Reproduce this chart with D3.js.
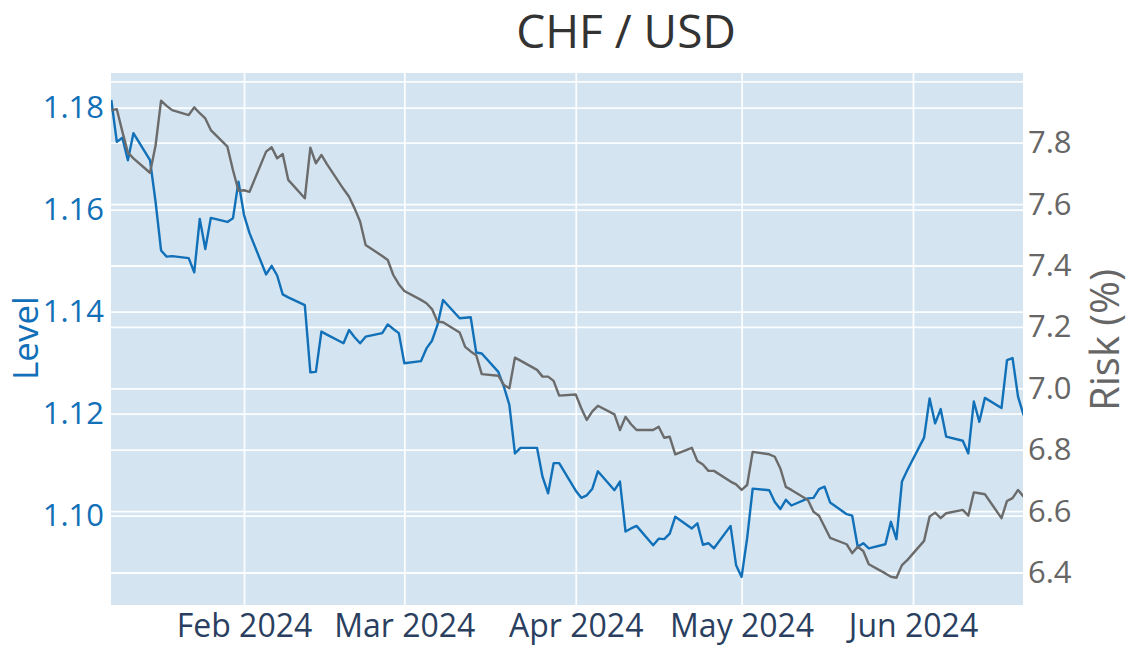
<!DOCTYPE html>
<html><head><meta charset="utf-8">
<script src="https://cdn.jsdelivr.net/npm/d3@7"></script>
<style>body{margin:0;background:#fff}</style>
</head><body><svg id="c" width="1131" height="651"></svg>
<script>
const dates = [
"2024-01-08","2024-01-09","2024-01-10","2024-01-11","2024-01-12",
"2024-01-15","2024-01-16","2024-01-17","2024-01-18","2024-01-19",
"2024-01-22","2024-01-23","2024-01-24","2024-01-25","2024-01-26",
"2024-01-29","2024-01-30","2024-01-31","2024-02-01","2024-02-02",
"2024-02-05","2024-02-06","2024-02-07","2024-02-08","2024-02-09",
"2024-02-12","2024-02-13","2024-02-14","2024-02-15","2024-02-16",
"2024-02-19","2024-02-20","2024-02-21","2024-02-22","2024-02-23",
"2024-02-26","2024-02-27","2024-02-28","2024-02-29","2024-03-01",
"2024-03-04","2024-03-05","2024-03-06","2024-03-07","2024-03-08",
"2024-03-11","2024-03-12","2024-03-13","2024-03-14","2024-03-15",
"2024-03-18","2024-03-19","2024-03-20","2024-03-21","2024-03-22",
"2024-03-25","2024-03-26","2024-03-27","2024-03-28","2024-03-29",
"2024-04-01","2024-04-02","2024-04-03","2024-04-04","2024-04-05",
"2024-04-08","2024-04-09","2024-04-10","2024-04-11","2024-04-12",
"2024-04-15","2024-04-16","2024-04-17","2024-04-18","2024-04-19",
"2024-04-22","2024-04-23","2024-04-24","2024-04-25","2024-04-26",
"2024-04-29","2024-04-30","2024-05-01","2024-05-02","2024-05-03",
"2024-05-06","2024-05-07","2024-05-08","2024-05-09","2024-05-10",
"2024-05-13","2024-05-14","2024-05-15","2024-05-16","2024-05-17",
"2024-05-20","2024-05-21","2024-05-22","2024-05-23","2024-05-24",
"2024-05-27","2024-05-28","2024-05-29","2024-05-30","2024-05-31",
"2024-06-03","2024-06-04","2024-06-05","2024-06-06","2024-06-07",
"2024-06-10","2024-06-11","2024-06-12","2024-06-13","2024-06-14",
"2024-06-17","2024-06-18","2024-06-19","2024-06-20","2024-06-21"];

const level = [
1.1815,1.1733,1.1741,1.1697,1.1750,
1.1697,1.1616,1.1520,1.1508,1.1509,
1.1505,1.1477,1.1582,1.1523,1.1584,
1.1576,1.1583,1.1655,1.1590,1.1554,
1.1473,1.1490,1.1471,1.1434,1.1428,
1.1413,1.1281,1.1282,1.1361,1.1355,
1.1338,1.1364,1.1350,1.1338,1.1351,
1.1358,1.1375,1.1366,1.1358,1.1299,
1.1303,1.1328,1.1343,1.1374,1.1423,
1.1387,1.1388,1.1389,1.1320,1.1318,
1.1282,1.1253,1.1217,1.1122,1.1133,
1.1133,1.1076,1.1044,1.1103,1.1103,
1.1049,1.1035,1.1040,1.1053,1.1087,
1.1050,1.1067,1.0969,1.0975,1.0980,
1.0942,1.0955,1.0954,1.0965,1.0998,
1.0975,1.0985,1.0943,1.0946,1.0936,
1.0980,1.0903,1.0880,1.0956,1.1053,
1.1050,1.1027,1.1013,1.1031,1.1020,
1.1034,1.1035,1.1052,1.1057,1.1026,
1.1003,1.1000,1.0939,1.0946,1.0936,
1.0944,1.0988,1.0954,1.1067,1.1090,
1.1153,1.1230,1.1181,1.1209,1.1155,
1.1147,1.1122,1.1224,1.1184,1.1231,
1.1211,1.1305,1.1309,1.1233,1.1197];

const risk = [
7.906,7.909,7.836,7.768,7.749,
7.702,7.790,7.937,7.920,7.906,
7.890,7.915,7.896,7.879,7.841,
7.787,7.711,7.644,7.645,7.640,
7.771,7.785,7.749,7.763,7.679,
7.619,7.784,7.733,7.760,7.730,
7.649,7.624,7.586,7.543,7.467,
7.431,7.418,7.369,7.339,7.317,
7.288,7.277,7.258,7.217,7.215,
7.182,7.135,7.120,7.108,7.046,
7.041,7.011,7.000,7.100,7.090,
7.060,7.038,7.038,7.024,6.976,
6.980,6.935,6.897,6.925,6.943,
6.915,6.864,6.907,6.883,6.864,
6.864,6.875,6.839,6.842,6.785,
6.806,6.763,6.752,6.731,6.731,
6.696,6.687,6.669,6.685,6.793,
6.785,6.777,6.739,6.679,6.669,
6.636,6.598,6.585,6.549,6.513,
6.492,6.463,6.484,6.470,6.427,
6.397,6.386,6.383,6.424,6.441,
6.503,6.582,6.595,6.577,6.593,
6.604,6.585,6.661,6.658,6.655,
6.577,6.633,6.642,6.669,6.647];

const levelTicks = [1.10, 1.12, 1.14, 1.16, 1.18];
const riskGrid = [6.4, 6.6, 6.8, 7.0, 7.2, 7.4, 7.6, 7.8, 8.0];
const riskLabels = [6.4, 6.6, 6.8, 7.0, 7.2, 7.4, 7.6, 7.8];
const monthTicks = ["2024-02-01","2024-03-01","2024-04-01","2024-05-01","2024-06-01"];

const titleText = "CHF / USD";
const levelTitle = "Level";
const riskTitle = "Risk (%)";

const L = 111, R = 1023, T = 73, B = 605;
const FONT = "'Open Sans', sans-serif";
const BLUE = "#1170b8", GRAY = "#6b6b6b";

const parse = d3.utcParse("%Y-%m-%d");
const pd = dates.map(parse);
const x = d3.scaleUtc().domain(d3.extent(pd)).range([111.3, 1023.6]);
const yL = d3.scaleLinear().domain([1.08249, 1.18680]).range([B, T]);
const yR = d3.scaleLinear().domain([6.2941, 8.0270]).range([B, T]);

const svg = d3.select("#c");
svg.append("rect").attr("width",1131).attr("height",651).attr("fill","#fff");
svg.append("rect").attr("x",L).attr("y",T).attr("width",R-L).attr("height",B-T).attr("fill","#d4e5f1");

// gridlines
const gridStyle = g => { g.select(".domain").remove(); g.selectAll("line").attr("stroke","#ffffff").attr("stroke-width",1.8).attr("stroke-opacity",0.9); g.selectAll("text").remove(); };
svg.append("g").attr("transform",`translate(0,${B})`)
  .call(d3.axisBottom(x).tickValues(monthTicks.map(parse)).tickSize(-(B-T)).tickFormat(""))
  .call(gridStyle);
svg.append("g").attr("transform",`translate(${L},0)`)
  .call(d3.axisLeft(yL).tickValues(levelTicks).tickSize(-(R-L)).tickFormat(""))
  .call(gridStyle);
svg.append("g").attr("transform",`translate(${R},0)`)
  .call(d3.axisRight(yR).tickValues(riskGrid).tickSize(-(R-L)).tickFormat(""))
  .call(gridStyle);

// clip
svg.append("clipPath").attr("id","clip").append("rect").attr("x",L).attr("y",T).attr("width",R-L).attr("height",B-T);

const lvlLine = d3.line().x((d,i)=>x(pd[i])).y(d=>yL(d));
const rskLine = d3.line().x((d,i)=>x(pd[i])).y(d=>yR(d));
const gl = svg.append("g").attr("clip-path","url(#clip)");
gl.append("path").datum(level).attr("d",lvlLine).attr("fill","none").attr("stroke",BLUE).attr("stroke-width",2.4).attr("stroke-linejoin","round");
gl.append("path").datum(risk).attr("d",rskLine).attr("fill","none").attr("stroke",GRAY).attr("stroke-width",2.4).attr("stroke-linejoin","round");

// axes labels
const fmtMonth = d3.utcFormat("%b %Y");
const ax = svg.append("g").attr("transform",`translate(0,${B})`)
  .call(d3.axisBottom(x).tickValues(monthTicks.map(parse)).tickSize(0).tickPadding(9).tickFormat(fmtMonth));
ax.select(".domain").remove();
ax.selectAll("text").attr("font-family",FONT).attr("font-size",32).attr("fill","#2a3f5f");

const al = svg.append("g").attr("transform",`translate(${L},0)`)
  .call(d3.axisLeft(yL).tickValues(levelTicks).tickSize(0).tickPadding(7).tickFormat(d3.format(".2f")));
al.select(".domain").remove();
al.selectAll("text").attr("font-family",FONT).attr("font-size",31).attr("fill",BLUE);

const ar = svg.append("g").attr("transform",`translate(${R},0)`)
  .call(d3.axisRight(yR).tickValues(riskLabels).tickSize(0).tickPadding(5).tickFormat(d3.format(".1f")));
ar.select(".domain").remove();
ar.selectAll("text").attr("font-family",FONT).attr("font-size",31).attr("fill","#666666");

// titles
svg.append("text").attr("x",626).attr("y",48).attr("text-anchor","middle")
  .attr("font-family",FONT).attr("font-size",46).attr("fill","#333333").text(titleText);
svg.append("text").attr("transform","translate(37.5,338) rotate(-90)").attr("text-anchor","middle")
  .attr("font-family",FONT).attr("font-size",35).attr("fill",BLUE).text(levelTitle);
svg.append("text").attr("transform","translate(1103,340) rotate(-90)").attr("text-anchor","middle")
  .attr("dominant-baseline","central").attr("font-family",FONT).attr("font-size",40).attr("fill","#666666").text(riskTitle);
</script>
</body></html>
